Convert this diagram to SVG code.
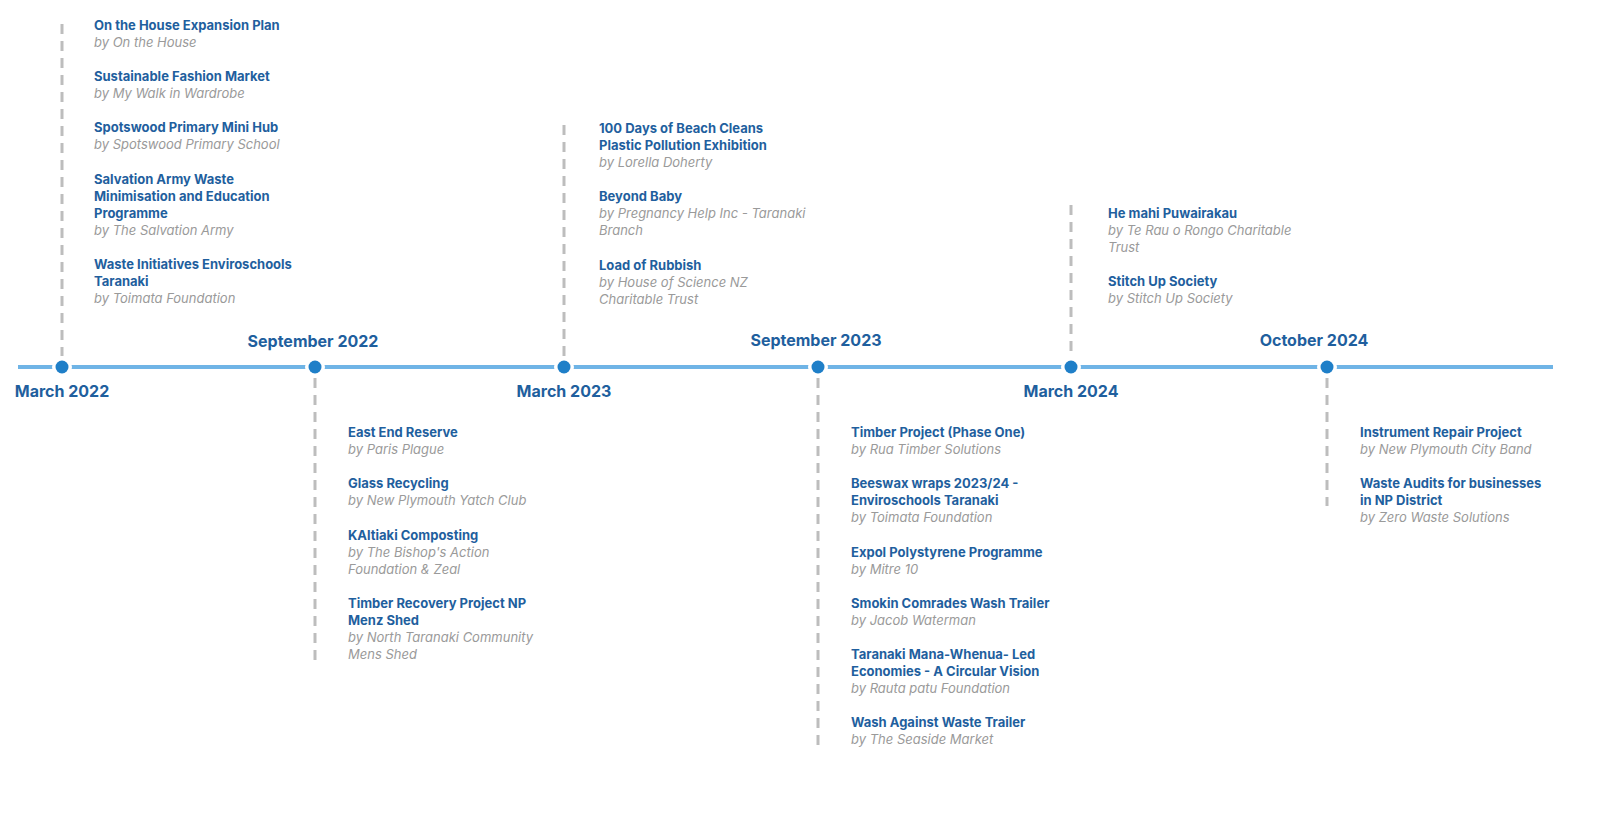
<svg xmlns="http://www.w3.org/2000/svg" width="1600" height="830" viewBox="0 0 1600 830">
<style>
text{font-family:Inter,"Open Sans","Liberation Sans",sans-serif}
.t{font-size:13px;font-weight:700;fill:#1f5f9e}
.s{font-size:13px;font-style:italic;fill:#9a9a9a}
.d{font-size:16px;font-weight:700;fill:#1f5f9e;text-anchor:middle}
.dash{stroke:#bdbdbd;stroke-width:3;stroke-dasharray:10 7;fill:none}
.gap{fill:#fff}
.dot{fill:#1f7fc8}
</style>
<rect width="1600" height="830" fill="#fff"/>
<g id="connectors">
<line x1="18" y1="367" x2="1553" y2="367" stroke="#6fb4e6" stroke-width="4"/>
<line class="dash" x1="62" y1="24" x2="62" y2="356"/>
<line class="dash" x1="315" y1="378" x2="315" y2="662"/>
<line class="dash" x1="564" y1="125" x2="564" y2="356"/>
<line class="dash" x1="818" y1="378" x2="818" y2="746"/>
<line class="dash" x1="1071" y1="205" x2="1071" y2="356"/>
<line class="dash" x1="1327" y1="378" x2="1327" y2="506"/>
</g>
<g id="dots">
<circle class="gap" cx="62" cy="367" r="10"/><circle class="dot" cx="62" cy="367" r="6.5"/>
<circle class="gap" cx="315" cy="367" r="10"/><circle class="dot" cx="315" cy="367" r="6.5"/>
<circle class="gap" cx="564" cy="367" r="10"/><circle class="dot" cx="564" cy="367" r="6.5"/>
<circle class="gap" cx="818" cy="367" r="10"/><circle class="dot" cx="818" cy="367" r="6.5"/>
<circle class="gap" cx="1071" cy="367" r="10"/><circle class="dot" cx="1071" cy="367" r="6.5"/>
<circle class="gap" cx="1327" cy="367" r="10"/><circle class="dot" cx="1327" cy="367" r="6.5"/>
</g>
<g id="dates">
<text class="d" x="62" y="397">March 2022</text>
<text class="d" x="313" y="347">September 2022</text>
<text class="d" x="564" y="397">March 2023</text>
<text class="d" x="816" y="346">September 2023</text>
<text class="d" x="1071" y="397">March 2024</text>
<text class="d" x="1314" y="346">October 2024</text>
</g>
<g id="mar2022">
<text class="t" x="94" y="30">On the House Expansion Plan</text>
<text class="s" x="94" y="47">by On the House</text>
<text class="t" x="94" y="81">Sustainable Fashion Market</text>
<text class="s" x="94" y="98">by My Walk in Wardrobe</text>
<text class="t" x="94" y="132">Spotswood Primary Mini Hub</text>
<text class="s" x="94" y="149">by Spotswood Primary School</text>
<text class="t" x="94" y="184">Salvation Army Waste</text>
<text class="t" x="94" y="201">Minimisation and Education</text>
<text class="t" x="94" y="218">Programme</text>
<text class="s" x="94" y="235">by The Salvation Army</text>
<text class="t" x="94" y="269">Waste Initiatives Enviroschools</text>
<text class="t" x="94" y="286">Taranaki</text>
<text class="s" x="94" y="303">by Toimata Foundation</text>
</g>
<g id="sep2022">
<text class="t" x="348" y="437">East End Reserve</text>
<text class="s" x="348" y="454">by Paris Plague</text>
<text class="t" x="348" y="488">Glass Recycling</text>
<text class="s" x="348" y="505">by New Plymouth Yatch Club</text>
<text class="t" x="348" y="540">KAltiaki Composting</text>
<text class="s" x="348" y="557">by The Bishop's Action</text>
<text class="s" x="348" y="574">Foundation &amp; Zeal</text>
<text class="t" x="348" y="608">Timber Recovery Project NP</text>
<text class="t" x="348" y="625">Menz Shed</text>
<text class="s" x="348" y="642">by North Taranaki Community</text>
<text class="s" x="348" y="659">Mens Shed</text>
</g>
<g id="mar2023">
<text class="t" x="599" y="133">100 Days of Beach Cleans</text>
<text class="t" x="599" y="150">Plastic Pollution Exhibition</text>
<text class="s" x="599" y="167">by Lorella Doherty</text>
<text class="t" x="599" y="201">Beyond Baby</text>
<text class="s" x="599" y="218">by Pregnancy Help Inc - Taranaki</text>
<text class="s" x="599" y="235">Branch</text>
<text class="t" x="599" y="270">Load of Rubbish</text>
<text class="s" x="599" y="287">by House of Science NZ</text>
<text class="s" x="599" y="304">Charitable Trust</text>
</g>
<g id="sep2023">
<text class="t" x="851" y="437">Timber Project (Phase One)</text>
<text class="s" x="851" y="454">by Rua Timber Solutions</text>
<text class="t" x="851" y="488">Beeswax wraps 2023/24 -</text>
<text class="t" x="851" y="505">Enviroschools Taranaki</text>
<text class="s" x="851" y="522">by Toimata Foundation</text>
<text class="t" x="851" y="557">Expol Polystyrene Programme</text>
<text class="s" x="851" y="574">by Mitre 10</text>
<text class="t" x="851" y="608">Smokin Comrades Wash Trailer</text>
<text class="s" x="851" y="625">by Jacob Waterman</text>
<text class="t" x="851" y="659">Taranaki Mana-Whenua- Led</text>
<text class="t" x="851" y="676">Economies - A Circular Vision</text>
<text class="s" x="851" y="693">by Rauta patu Foundation</text>
<text class="t" x="851" y="727">Wash Against Waste Trailer</text>
<text class="s" x="851" y="744">by The Seaside Market</text>
</g>
<g id="mar2024">
<text class="t" x="1108" y="218">He mahi Puwairakau</text>
<text class="s" x="1108" y="235">by Te Rau o Rongo Charitable</text>
<text class="s" x="1108" y="252">Trust</text>
<text class="t" x="1108" y="286">Stitch Up Society</text>
<text class="s" x="1108" y="303">by Stitch Up Society</text>
</g>
<g id="oct2024">
<text class="t" x="1360" y="437">Instrument Repair Project</text>
<text class="s" x="1360" y="454">by New Plymouth City Band</text>
<text class="t" x="1360" y="488">Waste Audits for businesses</text>
<text class="t" x="1360" y="505">in NP District</text>
<text class="s" x="1360" y="522">by Zero Waste Solutions</text>
</g>
</svg>
